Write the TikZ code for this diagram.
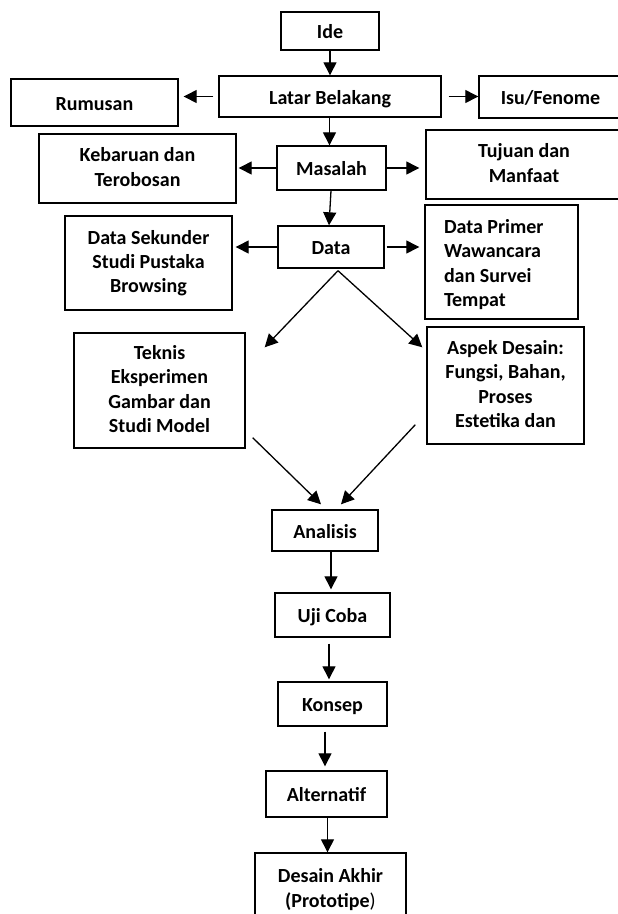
\documentclass[tikz,border=0pt]{standalone}
\usepackage{fontspec}
\setmainfont{Carlito}
\usetikzlibrary{arrows.meta,calc}
\newcommand{\boxstrut}{\rule[-3.2pt]{0pt}{22.2pt}}
\begin{document}
\begin{tikzpicture}[x=1pt,y=-1pt,
  box/.style={draw=black,line width=1.4pt,fill=white,inner sep=0pt,rectangle,
    font=\fontsize{20}{24.3}\selectfont\bfseries,align=center,
    execute at begin node=\boxstrut,execute at end node=\boxstrut},
  arr/.style={line width=1.3pt,-{Triangle[length=13pt,width=13pt]}}]
\useasboundingbox (0,0) rectangle (618,914);
\clip (0,0) rectangle (618,914);
\fill[white] (0,0) rectangle (618,914);
% nodes
\node[box,minimum width=98,minimum height=38] (ide) at (330,31) {Ide};
\node[box,minimum width=222,minimum height=41] (latar) at (330,96.5) {Latar Belakang};
\node[box,minimum width=167,minimum height=47] (rumusan) at (94.5,102.5) {Rumusan};
\node[box,minimum width=143,minimum height=42] (isu) at (550.5,97) {Isu/Fenome};
\node[box,minimum width=109,minimum height=44] (masalah) at (331.5,168) {Masalah};
\node[box,minimum width=197,minimum height=69] (kebaruan) at (137.5,168.5) {Kebaruan dan\\Terobosan};
\node[box,minimum width=196,minimum height=69] (tujuan) at (524,164.5) {Tujuan dan\\Manfaat};
\node[box,minimum width=106,minimum height=42] (data) at (331,247) {Data};
\node[box,minimum width=167,minimum height=94] (sekunder) at (148.5,263) {Data Sekunder\\Studi Pustaka\\Browsing};
\node[box,minimum width=153,minimum height=114,text width=115,inner xsep=19,align=flush left] (primer) at (501.5,262) {Data Primer\\Wawancara\\dan Survei\\Tempat};
\node[box,minimum width=171,minimum height=115] (teknis) at (159.5,390.5) {Teknis\\Eksperimen\\Gambar dan\\Studi Model};
\node[box,minimum width=157,minimum height=117] (aspek) at (505.5,385.5) {Aspek Desain:\\Fungsi, Bahan,\\Proses\\Estetika dan};
\node[box,minimum width=106,minimum height=41] (analisis) at (325,530.5) {Analisis};
\node[box,minimum width=115,minimum height=44] (uji) at (332.5,615) {Uji Coba};
\node[box,minimum width=109,minimum height=44] (konsep) at (332.5,704) {Konsep};
\node[box,minimum width=121,minimum height=46] (alternatif) at (326.5,794) {Alternatif};
\node[box,minimum width=151,minimum height=73] (desain) at (330.5,889.5) {Desain Akhir\\(Prototipe\textmd{)}};
% connectors
\draw[arr] (ide.south) -- (latar.north);
\draw[arr,shorten <=5pt,shorten >=5pt] (latar.west) -- (latar.west -| rumusan.east);
\draw[arr,shorten <=7pt] (latar.east) -- (latar.east -| isu.west);
\draw[arr] ([xshift=-0.5pt]latar.south) -- ([xshift=-0.5pt]latar.south |- masalah.north);
\draw[arr,shorten >=2pt] (masalah.west) -- (masalah.west -| kebaruan.east);
\draw[arr,shorten >=6pt] (masalah.east) -- (masalah.east -| tujuan.west);
\draw[arr] ($(masalah.south)+(-0.5,0)$) -- ($(data.north)+(-2,0)$);
\draw[arr,shorten >=3pt] (data.west) -- (data.west -| sekunder.east);
\draw[arr,shorten <=2pt,shorten >=5pt] (data.east) -- (data.east -| primer.west);
\draw[arr] ($(data.south)+(7,2)$) -- ($(teknis.north east)+(19,15)$);
\draw[arr] ($(data.south)+(7,2)$) -- ($(aspek.north west)+(-4,21)$);
\draw[arr] ($(teknis.south east)+(7,-11)$) -- ($(analisis.north)+(-4,-5)$);
\draw[arr] ($(aspek.south west)+(-11,-20)$) -- ($(analisis.north)+(16,-5)$);
\draw[arr,shorten >=3pt] ($(analisis.south)+(6,0)$) -- ($(uji.north)+(-1.5,0)$);
\draw[arr,shorten <=6pt,shorten >=2pt] ($(uji.south)+(-3.5,0)$) -- ($(konsep.north)+(-3.5,0)$);
\draw[arr,shorten <=5pt,shorten >=4pt] ($(konsep.south)+(-7.5,0)$) -- ($(alternatif.north)+(-1.5,0)$);
\draw[arr] ($(alternatif.south)+(1,0)$) -- ($(desain.north)+(-3,0)$);
\end{tikzpicture}
\end{document}
